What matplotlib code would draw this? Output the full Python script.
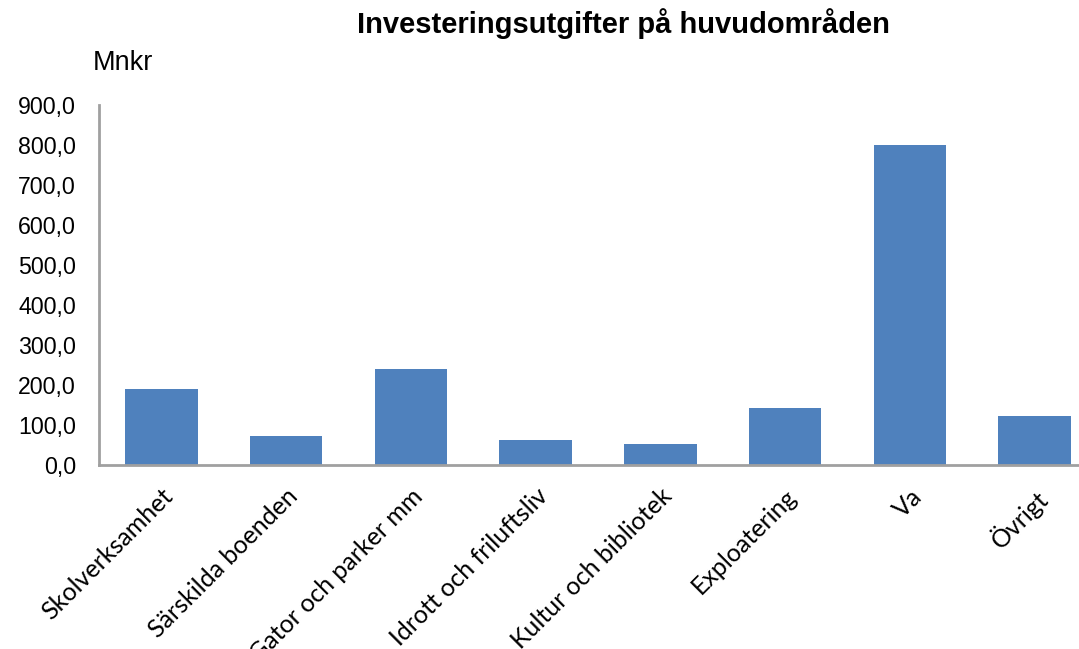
import matplotlib.pyplot as plt
from matplotlib.ticker import FuncFormatter

kategorier = ["Skolverksamhet", "Särskilda boenden", "Gator och parker mm",
              "Idrott och friluftsliv", "Kultur och bibliotek", "Exploatering",
              "Va", "Övrigt"]
utgifter = [190, 72.5, 240, 62.5, 52.5, 142.5, 800, 122.5]
yticks = [0, 100, 200, 300, 400, 500, 600, 700, 800, 900]

plt.rcParams['font.family'] = ['Liberation Sans', 'DejaVu Sans']

fig = plt.figure(figsize=(10.79, 6.49), dpi=100)
ax = fig.add_axes([99/1079, 1-465/649, 998/1079, 360/649])

x = range(len(kategorier))
ax.bar(x, utgifter, width=0.58, color='#4f81bd', zorder=2)

ax.set_xlim(-0.5, len(kategorier)-0.5)
ax.set_ylim(0, 900)
ax.set_yticks(yticks)
ax.yaxis.set_major_formatter(FuncFormatter(lambda v, p: f"{v:.1f}".replace('.', ',')))
ax.tick_params(axis='y', length=0, pad=16.5, labelsize=16.7)
ax.tick_params(axis='x', length=0, pad=14)

ax.set_xticks(list(x))
ax.set_xticklabels(kategorier, rotation=45, ha='right', rotation_mode='anchor',
                   fontsize=18, family=['Lato', 'DejaVu Sans'])

for s in ['top', 'right']:
    ax.spines[s].set_visible(False)
for s in ['left', 'bottom']:
    ax.spines[s].set_color('#a0a0a0')
    ax.spines[s].set_linewidth(2)

fig.text(623/1079, 1-24/649, "Investeringsutgifter på huvudområden",
         ha='center', va='center', fontsize=21, fontweight='bold')
fig.text(93/1079, 1-63/649, "Mnkr", ha='left', va='center', fontsize=19.5)

fig.savefig('out.png', dpi=100)
